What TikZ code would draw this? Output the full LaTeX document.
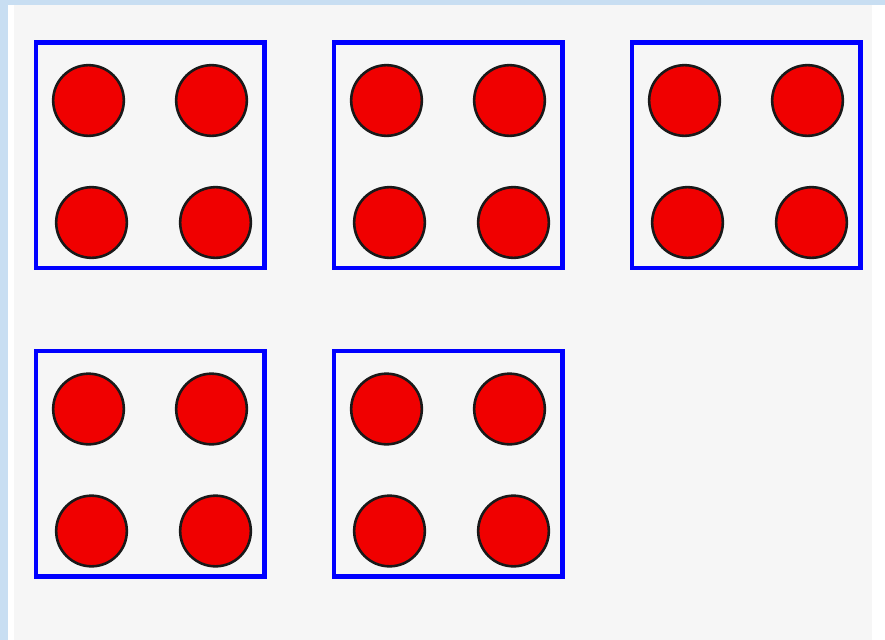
\documentclass[tikz,border=0pt]{standalone}
\definecolor{strip}{RGB}{200,222,242}
\definecolor{paper}{RGB}{246,246,246}
\definecolor{dotred}{RGB}{240,0,0}
\tikzset{
  box/.style={draw=blue,line width=4pt},
  dot/.style={circle,draw=black!90,line width=2.2pt,fill=dotred,inner sep=0pt,minimum size=2.12cm}
}
\begin{document}
\begin{tikzpicture}[x=0.03cm,y=-0.03cm]
\fill[strip] (0,0) rectangle (885,640);
\fill[white] (8,5) rectangle (885,640);
\fill[paper] (14,5) rectangle (872,640);
\foreach \n/\x/\y in {1/36/42.5,2/334/42.5,3/632/42.5,4/36/351,5/334/351}{
  \draw[box] (\x,\y) rectangle +(228.5,225.5);
  \node[dot] (d\n-1) at (\x+52.5,\y+58) {};
  \node[dot] (d\n-2) at (\x+175.5,\y+58) {};
  \node[dot] (d\n-3) at (\x+55.5,\y+180) {};
  \node[dot] (d\n-4) at (\x+179.5,\y+180) {};
}
\end{tikzpicture}
\end{document}
